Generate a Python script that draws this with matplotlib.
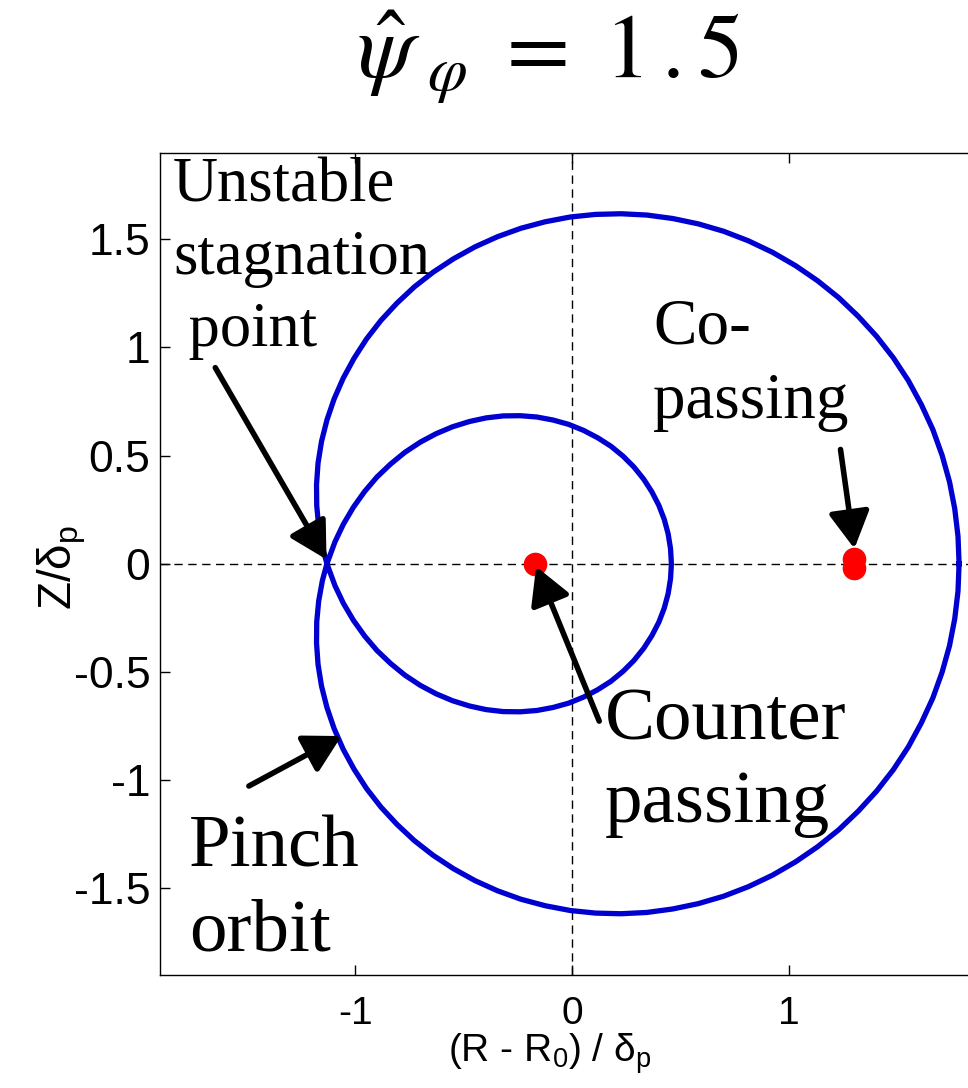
import matplotlib
matplotlib.use("Agg")
import matplotlib.pyplot as plt

plt.rcParams['font.family'] = ['Liberation Sans', 'DejaVu Sans']

# pinch orbit traced in the poloidal plane (R - R0)/delta_p , Z/delta_p
orbit_r = [1.786, 1.781, 1.766, 1.742, 1.708, 1.665, 1.612, 1.552, 1.483, 1.406,
           1.321, 1.231, 1.134, 1.032, 0.925, 0.814, 0.700, 0.584, 0.465, 0.346,
           0.227, 0.109, -0.008, -0.123, -0.235, -0.343, -0.447, -0.546, -0.640, -0.727,
           -0.807, -0.881, -0.947, -1.005, -1.055, -1.097, -1.130, -1.155, -1.171, -1.178,
           -1.177, -1.168, -1.151, -1.130, -1.093, -1.054, -1.008, -0.956, -0.899, -0.836,
           -0.770, -0.699, -0.626, -0.550, -0.473, -0.395, -0.317, -0.239, -0.162, -0.087,
           -0.015, 0.054, 0.119, 0.180, 0.236, 0.286, 0.331, 0.369, 0.401, 0.426,
           0.444, 0.455, 0.459,
           0.455, 0.444, 0.426, 0.401, 0.369, 0.331, 0.286, 0.236, 0.180, 0.119,
           0.054, -0.015, -0.087, -0.162, -0.239, -0.317, -0.395, -0.473, -0.550, -0.626,
           -0.699, -0.770, -0.836, -0.899, -0.956, -1.008, -1.054, -1.093, -1.130, -1.151,
           -1.168, -1.177, -1.178, -1.171, -1.155, -1.130, -1.097, -1.055, -1.005, -0.947,
           -0.881, -0.807, -0.727, -0.640, -0.546, -0.447, -0.343, -0.235, -0.123, -0.008,
           0.109, 0.227, 0.346, 0.465, 0.584, 0.700, 0.814, 0.925, 1.032, 1.134,
           1.231, 1.321, 1.406, 1.483, 1.552, 1.612, 1.665, 1.708, 1.742, 1.766,
           1.781, 1.786]
orbit_z = [0.000, 0.127, 0.254, 0.378, 0.500, 0.620, 0.735, 0.846, 0.951, 1.050,
           1.143, 1.229, 1.307, 1.377, 1.439, 1.492, 1.536, 1.570, 1.595, 1.611,
           1.617, 1.614, 1.602, 1.580, 1.550, 1.511, 1.464, 1.409, 1.347, 1.279,
           1.204, 1.124, 1.039, 0.949, 0.857, 0.761, 0.664, 0.565, 0.465, 0.366,
           0.268, 0.172, 0.078, 0.000, -0.101, -0.183, -0.261, -0.334, -0.401, -0.461,
           -0.515, -0.562, -0.601, -0.633, -0.657, -0.674, -0.683, -0.684, -0.678, -0.664,
           -0.644, -0.616, -0.582, -0.543, -0.497, -0.447, -0.391, -0.332, -0.270, -0.205,
           -0.138, -0.069, 0.000,
           0.069, 0.138, 0.205, 0.270, 0.332, 0.391, 0.447, 0.497, 0.543, 0.582,
           0.616, 0.644, 0.664, 0.678, 0.684, 0.683, 0.674, 0.657, 0.633, 0.601,
           0.562, 0.515, 0.461, 0.401, 0.334, 0.261, 0.183, 0.101, 0.000, -0.078,
           -0.172, -0.268, -0.366, -0.465, -0.565, -0.664, -0.761, -0.857, -0.949, -1.039,
           -1.124, -1.204, -1.279, -1.347, -1.409, -1.464, -1.511, -1.550, -1.580, -1.602,
           -1.614, -1.617, -1.611, -1.595, -1.570, -1.536, -1.492, -1.439, -1.377, -1.307,
           -1.229, -1.143, -1.050, -0.951, -0.846, -0.735, -0.620, -0.500, -0.378, -0.254,
           -0.127, 0.000]

# passing orbits that collapse to points
counter_r, counter_z = [-0.17], [0.0]
copass_r, copass_z = [1.30, 1.30], [0.02, -0.02]

xticks = [-1, 0, 1]
xtick_labels = ['-1', '0', '1']
yticks = [-1.5, -1, -0.5, 0, 0.5, 1, 1.5]
ytick_labels = ['-1.5', '-1', '-0.5', '0', '0.5', '1', '1.5']

fig = plt.figure(figsize=(9.68, 10.88), dpi=100)
ax = fig.add_axes([160/968, 113/1088, 823.8/968, 822.5/1088])

ax.axhline(0, color='k', lw=1.0, ls=(0, (6, 4)), zorder=1)
ax.axvline(0, color='k', lw=1.0, ls=(0, (6, 4)), zorder=1)

ax.plot(orbit_r, orbit_z, color='#0000d0', lw=3.8, solid_joinstyle='round', zorder=2)
ax.plot(counter_r, counter_z, 'o', color='red', ms=16, zorder=3)
ax.plot(copass_r, copass_z, 'o', color='red', ms=16, zorder=3)

ax.set_xlim(-1.9, 1.9)
ax.set_ylim(-1.9, 1.9)
ax.set_xticks(xticks)
ax.set_xticklabels(xtick_labels)
ax.set_yticks(yticks)
ax.set_yticklabels(ytick_labels)
ax.tick_params(direction='in', length=7, width=1, top=True, right=True)
ax.tick_params(axis='x', labelsize=28, pad=15)
ax.tick_params(axis='y', labelsize=32, pad=7)
for s in ax.spines.values():
    s.set_linewidth(1.0)

ax.set_xlabel('(R - R$_\\mathregular{0}$) / δ$_\\mathregular{p}$', fontsize=28)
ax.xaxis.set_label_coords(0.4734, -0.068)
ax.set_ylabel('Z/δ$_\\mathregular{p}$', fontsize=33)
ax.yaxis.set_label_coords(-0.088, 0.496)

fig.text(0.566, 0.929, r'$\hat{\psi}_{\ \varphi}\ =\ 1\,.5$', fontsize=66,
         ha='center', va='baseline', math_fontfamily='stix')

serif = ['Liberation Serif', 'DejaVu Serif']
arrow = dict(arrowstyle='-|>,head_length=0.45,head_width=0.25', color='k',
             lw=4, mutation_scale=50, shrinkA=0, shrinkB=0)

ax.text(-1.84, 1.875, 'Unstable\nstagnation\n point', family=serif, fontsize=45,
        ha='left', va='top', linespacing=1.32)
ax.annotate('', xy=(-1.132, 0.02), xytext=(-1.645, 0.906), arrowprops=arrow)

ax.text(0.375, 1.228, 'Co-\npassing', family=serif, fontsize=47,
        ha='left', va='top', linespacing=1.33)
ax.annotate('', xy=(1.303, 0.07), xytext=(1.239, 0.528), arrowprops=arrow)

ax.text(0.15, -0.572, 'Counter\npassing', family=serif, fontsize=54,
        ha='left', va='top', linespacing=1.3)
ax.annotate('', xy=(-0.165, -0.013), xytext=(0.126, -0.727), arrowprops=arrow)

ax.text(-1.765, -1.16, 'Pinch\norbit', family=serif, fontsize=54,
        ha='left', va='top', linespacing=1.32)
ax.annotate('', xy=(-1.063, -0.796), xytext=(-1.49, -1.027), arrowprops=arrow)

fig.savefig('out.png', dpi=100)
